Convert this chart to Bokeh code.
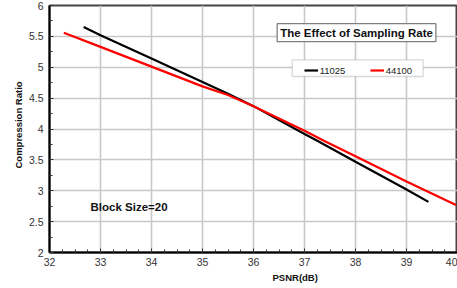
from bokeh.plotting import figure
from bokeh.models import Label, Legend, LegendItem, FixedTicker, Range1d, Title, BoxAnnotation
from bokeh.embed import file_html
from bokeh.resources import INLINE

# Data
psnr_11025 = [32.67, 33.0, 34.0, 35.0, 35.5, 36.0, 37.0, 37.25, 38.0, 39.0, 39.43]
cr_11025 = [5.65, 5.52, 5.14, 4.76, 4.57, 4.37, 3.92, 3.81, 3.47, 3.02, 2.82]
psnr_44100 = [32.28, 33.0, 34.0, 35.0, 35.5, 36.0, 37.0, 37.38, 38.0, 39.0, 39.97]
cr_44100 = [5.56, 5.33, 5.01, 4.69, 4.55, 4.37, 3.97, 3.81, 3.56, 3.15, 2.77]
x_ticks = [32, 33, 34, 35, 36, 37, 38, 39, 40]
y_ticks = [2, 2.5, 3, 3.5, 4, 4.5, 5, 5.5, 6]

FONT = "Liberation Sans"

p = figure(width=457, height=288, output_backend="svg", toolbar_location=None,
           x_range=Range1d(32, 40), y_range=Range1d(2, 6),
           min_border_left=49, min_border_right=0, min_border_top=5, min_border_bottom=36)
p.background_fill_color = "white"
p.border_fill_color = "white"
p.outline_line_color = "#444444"
p.outline_line_width = 2

for ax in (p.xaxis[0], p.yaxis[0]):
    ax.axis_line_color = "black"
    ax.axis_line_width = 2
    ax.major_tick_in = 4
    ax.major_tick_out = 0
    ax.minor_tick_in = 3
    ax.minor_tick_out = 0
    ax.major_tick_line_color = "#333333"
    ax.minor_tick_line_color = "#333333"
    ax.major_label_text_font = FONT
    ax.major_label_text_font_size = "10.5px"
    ax.major_label_text_color = "#333333"
p.xaxis[0].major_label_standoff = 5
p.yaxis[0].major_label_standoff = 6

p.xaxis[0].ticker = FixedTicker(ticks=x_ticks, minor_ticks=[32 + i * 0.25 for i in range(33)])
p.yaxis[0].ticker = FixedTicker(ticks=y_ticks, minor_ticks=[2 + i * 0.25 for i in range(17)])
p.xgrid[0].ticker = FixedTicker(ticks=x_ticks)
p.ygrid[0].ticker = FixedTicker(ticks=y_ticks)

for g in (p.xgrid[0], p.ygrid[0]):
    g.grid_line_color = "#c8c8c8"
    g.grid_line_width = 1.6

r1 = p.line(psnr_11025, cr_11025, line_color="black", line_width=2.2)
r2 = p.line(psnr_44100, cr_44100, line_color="#ff0000", line_width=2.2)

# legend frame (Excel-style box)
legend_box = BoxAnnotation(left=36.76, right=39.327, top=5.121, bottom=4.850,
                           fill_color="white", fill_alpha=1,
                           line_color="#808080", line_width=1.3, level="overlay")
p.add_layout(legend_box)

legend = Legend(items=[LegendItem(label="11025", renderers=[r1]),
                       LegendItem(label="44100", renderers=[r2])],
                orientation="horizontal", location=(254.7, 176.5),
                margin=0, padding=2, spacing=16, label_standoff=2,
                glyph_width=14, glyph_height=10, label_width=34,
                label_text_font=FONT, label_text_font_size="9.5px",
                label_text_color="#222222", label_height=11,
                border_line_color=None, background_fill_alpha=0)
p.add_layout(legend)

title = Label(x=38.02, y=5.56, text="The Effect of Sampling Rate",
              text_font=FONT, text_font_size="11.5px", text_font_style="bold",
              text_color="#111111", text_align="center", text_baseline="middle",
              border_line_color="#808080", border_line_width=1.3,
              background_fill_color="white", padding=3)
p.add_layout(title)

block = Label(x=33.56, y=2.74, text="Block Size=20",
              text_font=FONT, text_font_size="11.5px", text_font_style="bold",
              text_color="#111111", text_align="center", text_baseline="middle")
p.add_layout(block)

ylab = Title(text="Compression Ratio", align="left", offset=84, standoff=4,
             text_font=FONT, text_font_size="9.5px", text_font_style="bold",
             text_color="#111111")
p.add_layout(ylab, "left")

xlab = Title(text="PSNR(dB)", align="left", offset=223, standoff=3,
             text_font=FONT, text_font_size="9.5px", text_font_style="bold",
             text_color="#111111")
p.add_layout(xlab, "below")

open("out.html", "w").write(file_html(p, INLINE))
